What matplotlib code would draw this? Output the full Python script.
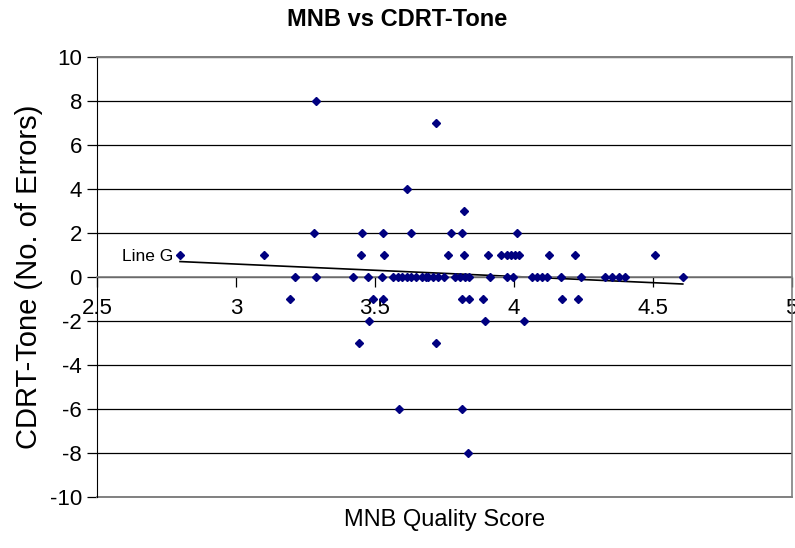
import numpy as np
import matplotlib
matplotlib.use('Agg')
import matplotlib.pyplot as plt

plt.rcParams['font.family'] = ['Liberation Sans', 'DejaVu Sans']
plt.rcParams['axes.unicode_minus'] = False

# MNB quality score (x) and CDRT-Tone errors (y)
mnb = [3.288, 3.718, 3.614, 3.820,
       3.282, 3.452, 3.527, 3.631, 3.774, 3.812, 4.012,
       2.798, 3.102, 3.449, 3.534, 3.761, 3.821, 3.908, 3.953, 3.975, 3.989,
       4.005, 4.019, 4.127, 4.221, 4.508,
       3.213, 3.288, 3.419, 3.475, 3.524, 3.566, 3.581, 3.597, 3.614, 3.630,
       3.648, 3.669, 3.684, 3.692, 3.708, 3.725, 3.749, 3.788, 3.806, 3.824,
       3.840, 3.914, 3.975, 3.996, 4.065, 4.083, 4.101, 4.121, 4.170, 4.241,
       4.329, 4.353, 4.380, 4.401, 4.608,
       3.195, 3.492, 3.530, 3.813, 3.838, 3.889, 4.175, 4.232,
       3.479, 3.896, 4.036,
       3.444, 3.721,
       3.587, 3.815,
       3.834]
cdrt = [8, 7, 4, 3,
        2, 2, 2, 2, 2, 2, 2,
        1, 1, 1, 1, 1, 1, 1, 1, 1, 1,
        1, 1, 1, 1, 1,
        0, 0, 0, 0, 0, 0, 0, 0, 0, 0,
        0, 0, 0, 0, 0, 0, 0, 0, 0, 0,
        0, 0, 0, 0, 0, 0, 0, 0, 0, 0,
        0, 0, 0, 0, 0,
        -1, -1, -1, -1, -1, -1, -1, -1,
        -2, -2, -2,
        -3, -3,
        -6, -6,
        -8]

x = np.array(mnb)
y = np.array(cdrt)

# linear trend line over the data range
k, b = np.polyfit(x, y, 1)
tx = np.array([x.min(), x.max()])
ty = k * tx + b

fig = plt.figure(figsize=(7.95, 5.48), dpi=100)
ax = fig.add_axes([0.1223, 0.0925, 0.8735, 0.804])

ax.set_xlim(2.5, 5)
ax.set_ylim(-10, 10)
ax.set_xticks([2.5, 3, 3.5, 4, 4.5, 5])
ax.set_xticklabels(['2.5', '3', '3.5', '4', '4.5', '5'])
ax.set_yticks(range(-10, 11, 2))

ax.yaxis.grid(True, color='black', linewidth=0.9)
ax.set_axisbelow(True)
ax.axhline(-10, color='#808080', linewidth=1.4, clip_on=False, zorder=1)
ax.axhline(10, color='#808080', linewidth=1.4, clip_on=False, zorder=1)

for s in ['top', 'right']:
    ax.spines[s].set_color('#808080')
    ax.spines[s].set_linewidth(1.2)
ax.spines['left'].set_color('black')
ax.spines['bottom'].set_position(('data', 0))
ax.spines['bottom'].set_color('#808080')
ax.spines['bottom'].set_linewidth(1.2)

ax.tick_params(axis='x', direction='out', length=7, width=0.9, pad=8, labelsize=16)
ax.tick_params(axis='y', direction='out', length=7, width=0.9, pad=4, labelsize=16)

ax.plot(x, y, linestyle='none', marker='D', markersize=4, color='#000080', zorder=3)
ax.plot(tx, ty, color='black', linewidth=1.2, zorder=2)
ax.annotate('Line G', xy=(tx[0], ty[0]), xytext=(-5, 4), textcoords='offset points',
            ha='right', va='center', fontsize=12.5)

fig.suptitle('MNB vs CDRT-Tone', x=0.5, y=0.965, va='center', fontsize=17, fontweight='bold')
ax.set_xlabel('MNB Quality Score', fontsize=17)
ax.xaxis.set_label_coords(0.5, -0.052)
ax.xaxis.label.set_verticalalignment('center')
ax.set_ylabel('CDRT-Tone (No. of Errors)', fontsize=21)
ax.yaxis.set_label_coords(-0.098, 0.5)
ax.yaxis.label.set_verticalalignment('center')

fig.savefig('out.png', dpi=100)
